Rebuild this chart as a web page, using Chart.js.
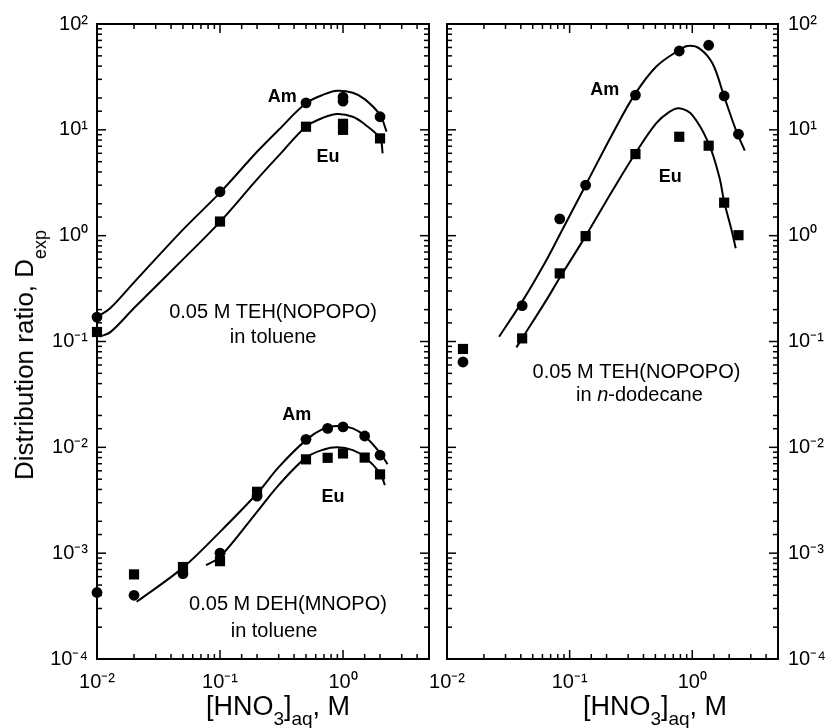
<!DOCTYPE html>
<html>
<head>
<meta charset="utf-8">
<script src="https://cdn.jsdelivr.net/npm/chart.js@4.4.1/dist/chart.umd.min.js"></script>
<style>
html,body{margin:0;padding:0;background:#fff;}
#wrap{position:relative;width:827px;height:728px;overflow:hidden;font-family:'Liberation Sans',Arial,Helvetica,sans-serif;color:#000;}
canvas{position:absolute;left:0;top:0;}
.ttl{position:absolute;white-space:nowrap;line-height:1;color:#000;}
.xt{font-size:27px;top:693px;transform:translateX(-50%);}
.xt .sb{position:relative;top:10px;font-size:19px;}
.yt{font-size:26px;left:24px;top:355px;transform:translate(-50%,-50%) rotate(-90deg);}
.yt .sb{position:relative;top:13px;font-size:18px;}
</style>
</head>
<body>
<div id="wrap">
  <canvas id="c1" width="827" height="728" style="width:827px;height:728px"></canvas>
  <canvas id="c2" width="827" height="728" style="width:827px;height:728px"></canvas>
  <div class="ttl yt">Distribution ratio, D<span class="sb">exp</span></div>
  <div class="ttl xt" style="left:278px">[HNO<span class="sb">3</span>]<span class="sb">aq</span>, M</div>
  <div class="ttl xt" style="left:655px">[HNO<span class="sb">3</span>]<span class="sb">aq</span>, M</div>
</div>
<script>
// ---------- DATA ----------
// Left panel, 0.05 M TEH(NOPOPO) in toluene
const tehTolX      = [0.01, 0.1, 0.5, 1.0, 1.0, 2.0];
const tehTolAm     = [0.17, 2.6, 18.0, 18.7, 20.4, 13.3];
const tehTolEu     = [0.123, 1.36, 10.7, 11.4, 10.0, 8.3];
const tehTolAmFitX = [0.01, 0.0128, 0.02, 0.05, 0.1, 0.2, 0.3, 0.5, 0.7, 0.9, 1.2, 1.5, 2.0, 2.26];
const tehTolAmFitY = [0.171, 0.206, 0.362, 1.14, 2.55, 6.2, 10.0, 17.8, 21.6, 23.4, 22.4, 19.5, 13.8, 9.6];
const tehTolEuFitX = [0.0106, 0.013, 0.02, 0.05, 0.1, 0.2, 0.3, 0.5, 0.7, 0.9, 1.2, 1.5, 2.0, 2.1];
const tehTolEuFitY = [0.111, 0.124, 0.207, 0.597, 1.35, 3.4, 5.7, 10.7, 13.1, 14.1, 13.3, 11.3, 8.3, 6.0];

// Left panel, 0.05 M DEH(MNOPO) in toluene
const dehAmX   = [0.01, 0.02, 0.05, 0.1, 0.2, 0.5, 0.75, 1.0, 1.5, 2.0];
const dehAm    = [4.25e-4, 4.0e-4, 6.4e-4, 1.0e-3, 3.46e-3, 0.0119, 0.0151, 0.0156, 0.0128, 0.00844];
const dehEuX   = [0.02, 0.05, 0.1, 0.2, 0.5, 0.75, 1.0, 1.5, 2.0];
const dehEu    = [6.3e-4, 7.4e-4, 8.4e-4, 3.8e-3, 7.7e-3, 7.96e-3, 8.75e-3, 8.0e-3, 5.55e-3];
const dehAmFitX = [0.021, 0.05, 0.1, 0.2, 0.3, 0.5, 0.7, 0.9, 1.2, 1.5, 2.0, 2.3];
const dehAmFitY = [3.47e-4, 7.3e-4, 1.59e-3, 3.66e-3, 6.5e-3, 0.0117, 0.0151, 0.0159, 0.0151, 0.0128, 0.00887, 0.00693];
const dehEuFitX = [0.077, 0.1, 0.2, 0.3, 0.5, 0.7, 0.9, 1.2, 1.5, 2.0, 2.19];
const dehEuFitY = [7.7e-4, 9.2e-4, 2.46e-3, 4.4e-3, 8.0e-3, 9.55e-3, 0.0100, 9.4e-3, 8.1e-3, 5.7e-3, 4.4e-3];

// Right panel, 0.05 M TEH(NOPOPO) in n-dodecane
const dodX     = [0.0135, 0.041, 0.083, 0.135, 0.344, 0.783, 1.36, 1.82, 2.38];
const dodAm    = [0.064, 0.218, 1.44, 3.0, 21.3, 55.6, 63, 20.9, 9.1];
const dodEu    = [0.085, 0.107, 0.44, 0.99, 5.9, 8.6, 7.08, 2.05, 1.01];
const dodAmFitX = [0.0266, 0.0417, 0.0646, 0.083, 0.135, 0.225, 0.337, 0.507, 0.783, 0.916, 1.14, 1.46, 1.82, 2.27, 2.68];
const dodAmFitY = [0.111, 0.246, 0.587, 1.02, 3.0, 9.3, 21.3, 39.5, 56.8, 62, 58.9, 42.5, 20.6, 9.95, 6.35];
const dodEuFitX = [0.0368, 0.041, 0.0646, 0.083, 0.135, 0.225, 0.344, 0.507, 0.65, 0.783, 1.0, 1.36, 1.66, 1.82, 2.09, 2.26];
const dodEuFitY = [0.088, 0.107, 0.246, 0.40, 0.99, 2.7, 6.0, 11.5, 14.8, 16.0, 13.8, 7.45, 3.6, 2.09, 1.13, 0.76];

// Axis ranges / tick labels
const xRange = [0.01, 5];
const yRange = [1e-4, 100];
const supMap = {'-':'\u207B','0':'\u2070','1':'\u00B9','2':'\u00B2','3':'\u00B3','4':'\u2074','5':'\u2075'};

// ---------- helpers ----------
const FONT = "'Liberation Sans', Arial, Helvetica, sans-serif";
const pts = (xs, ys) => xs.map((x, i) => ({x, y: ys[i]}));
const isPow10 = v => Math.abs(Math.log10(v) - Math.round(Math.log10(v))) < 1e-6;
const powLabel = v => {
  if (!isPow10(v)) return '';
  const e = String(Math.round(Math.log10(v)));
  return '10' + e.split('').map(c => supMap[c]).join('');
};

function markers(data, style) {
  return {type: 'scatter', data, showLine: false, clip: false,
    pointStyle: style, pointRadius: style === 'rect' ? 7.2 : 5.4, pointHoverRadius: style === 'rect' ? 7.2 : 5.4,
    backgroundColor: '#000', borderColor: '#000', borderWidth: 0};
}
function curve(data) {
  return {type: 'line', data, showLine: true, pointRadius: 0, pointHoverRadius: 0, clip: false,
    borderColor: '#000', borderWidth: 2, fill: false, tension: 0.35};
}

const frameTicks = {
  id: 'frameTicks',
  afterDatasetsDraw(chart) {
    const {ctx, chartArea: a} = chart;
    const sx = chart.scales.x, sy = chart.scales.y;
    ctx.save();
    ctx.strokeStyle = '#000';
    ctx.lineWidth = 1.5;
    const seg = (x1, y1, x2, y2) => { ctx.beginPath(); ctx.moveTo(x1, y1); ctx.lineTo(x2, y2); ctx.stroke(); };
    sx.ticks.forEach(t => {
      const p = sx.getPixelForValue(t.value);
      if (p < a.left + 1 || p > a.right - 1) return;
      const L = isPow10(t.value) ? 9 : 5;
      seg(p, a.bottom, p, a.bottom - L);
      seg(p, a.top, p, a.top + L);
    });
    sy.ticks.forEach(t => {
      const p = sy.getPixelForValue(t.value);
      if (p < a.top + 1 || p > a.bottom - 1) return;
      const L = isPow10(t.value) ? 9 : 5;
      seg(a.left, p, a.left + L, p);
      seg(a.right, p, a.right - L, p);
    });
    ctx.lineWidth = 2;
    ctx.strokeRect(a.left, a.top, a.right - a.left, a.bottom - a.top);
    ctx.restore();
  }
};

const annotations = {
  id: 'annotations',
  afterDatasetsDraw(chart, args, opts) {
    const {ctx} = chart;
    const sx = chart.scales.x, sy = chart.scales.y;
    ctx.save();
    ctx.fillStyle = '#000';
    ctx.textBaseline = 'middle';
    (opts.items || []).forEach(it => {
      const cx = sx.getPixelForValue(it.x), cy = sy.getPixelForValue(it.y);
      const parts = it.parts || [{t: it.text}];
      const fonts = parts.map(p => `${p.italic ? 'italic ' : ''}${it.bold ? 'bold ' : ''}${it.size}px ${FONT}`);
      let w = 0;
      parts.forEach((p, i) => { ctx.font = fonts[i]; w += ctx.measureText(p.t).width; });
      let x = cx - w / 2;
      ctx.textAlign = 'left';
      parts.forEach((p, i) => { ctx.font = fonts[i]; ctx.fillText(p.t, x, cy); x += ctx.measureText(p.t).width; });
    });
    ctx.restore();
  }
};

function axisX() {
  return {
    type: 'logarithmic', min: xRange[0], max: xRange[1], position: 'bottom',
    grid: {display: false, drawTicks: false}, border: {display: false},
    ticks: {autoSkip: false, maxRotation: 0, minRotation: 0, padding: 11, color: '#000',
      font: {size: 20, family: FONT}, callback: v => powLabel(v)},
    afterFit: s => { s.height = 69; }
  };
}
function axisY(position, width, pad) {
  return {
    type: 'logarithmic', min: yRange[0], max: yRange[1], position,
    grid: {display: false, drawTicks: false}, border: {display: false},
    ticks: {autoSkip: false, padding: pad, color: '#000',
      font: {size: 20, family: FONT}, callback: v => powLabel(v)},
    afterFit: s => { s.width = width; }
  };
}

Chart.defaults.font.family = FONT;
Chart.defaults.color = '#000';

new Chart(document.getElementById('c1'), {
  type: 'scatter',
  data: {datasets: [
    curve(pts(tehTolAmFitX, tehTolAmFitY)),
    curve(pts(tehTolEuFitX, tehTolEuFitY)),
    markers(pts(tehTolX, tehTolAm), 'circle'),
    markers(pts(tehTolX, tehTolEu), 'rect'),
    curve(pts(dehAmFitX, dehAmFitY)),
    curve(pts(dehEuFitX, dehEuFitY)),
    markers(pts(dehAmX, dehAm), 'circle'),
    markers(pts(dehEuX, dehEu), 'rect')
  ]},
  options: {
    responsive: false, animation: false, devicePixelRatio: 1,
    layout: {padding: {left: 37, right: 398, top: 24, bottom: 0}},
    scales: {x: axisX(), y: axisY('left', 60, 9)},
    plugins: {legend: {display: false}, tooltip: {enabled: false},
      annotations: {items: [
        {x: 0.32, y: 20.4, text: 'Am', bold: true, size: 18},
        {x: 0.755, y: 5.5, text: 'Eu', bold: true, size: 18},
        {x: 0.27, y: 0.19, text: '0.05 M TEH(NOPOPO)', size: 20},
        {x: 0.27, y: 0.11, text: 'in toluene', size: 20},
        {x: 0.42, y: 0.0201, text: 'Am', bold: true, size: 18},
        {x: 0.83, y: 0.00338, text: 'Eu', bold: true, size: 18},
        {x: 0.357, y: 3.24e-4, text: '0.05 M DEH(MNOPO)', size: 20},
        {x: 0.275, y: 1.83e-4, text: 'in toluene', size: 20}
      ]}}
  },
  plugins: [frameTicks, annotations]
});

new Chart(document.getElementById('c2'), {
  type: 'scatter',
  data: {datasets: [
    curve(pts(dodAmFitX, dodAmFitY)),
    curve(pts(dodEuFitX, dodEuFitY)),
    markers(pts(dodX, dodAm), 'circle'),
    markers(pts(dodX, dodEu), 'rect')
  ]},
  options: {
    responsive: false, animation: false, devicePixelRatio: 1,
    layout: {padding: {left: 447, right: 0, top: 24, bottom: 0}},
    scales: {x: axisX(), y: axisY('right', 49, 10)},
    plugins: {legend: {display: false}, tooltip: {enabled: false},
      annotations: {items: [
        {x: 0.193, y: 23.8, text: 'Am', bold: true, size: 18},
        {x: 0.662, y: 3.58, text: 'Eu', bold: true, size: 18},
        {x: 0.351, y: 0.0514, text: '0.05 M TEH(NOPOPO)', size: 20},
        {x: 0.371, y: 0.0311, parts: [{t: 'in '}, {t: 'n', italic: true}, {t: '-dodecane'}], size: 20}
      ]}}
  },
  plugins: [frameTicks, annotations]
});
</script>
</body>
</html>
